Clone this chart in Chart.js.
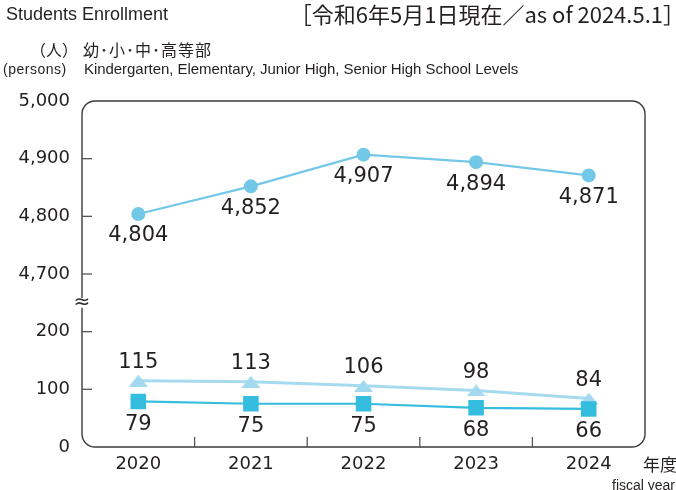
<!DOCTYPE html>
<html>
<head>
<meta charset="utf-8">
<script src="https://cdn.jsdelivr.net/npm/chart.js@4/dist/chart.umd.min.js"></script>
<style>
  html, body { margin:0; padding:0; background:#fff; }
  #wrap { position:relative; width:676px; height:490px; overflow:hidden; }
  canvas { position:absolute; left:0; top:0; }
  .t { position:absolute; white-space:nowrap; line-height:1; color:#231f20; }
</style>
</head>
<body>
<div id="wrap">
  <canvas id="c" width="676" height="490"></canvas>
  <div class="t" style="left:6px;top:5px;font:18px 'Liberation Sans',Arial,sans-serif;line-height:1;">Students Enrollment</div>
  <div class="t" style="right:-9px;top:2px;font:22px 'Noto Sans CJK JP',sans-serif;line-height:1;">［令和6年5月1日現在／as of 2024.5.1］</div>
  <div class="t" style="left:30px;top:41px;font:16px 'Noto Sans CJK JP',sans-serif;line-height:1;">（人）</div>
  <div class="t" style="left:83px;top:41px;font:16px 'Noto Sans CJK JP',sans-serif;line-height:1;letter-spacing:1px;">幼･小･中･高等部</div>
  <div class="t" style="left:3px;top:62px;font:14px 'Liberation Sans',Arial,sans-serif;line-height:1;letter-spacing:0.5px;">(persons)</div>
  <div class="t" style="left:84px;top:61px;font:15px 'Liberation Sans',Arial,sans-serif;line-height:1;letter-spacing:-0.05px;">Kindergarten, Elementary, Junior High, Senior High School Levels</div>
  <div class="t" style="left:643px;top:455px;font:17px 'Noto Sans CJK JP',sans-serif;line-height:1;">年度</div>
  <div class="t" style="left:612px;top:478px;font:14px 'Liberation Sans',Arial,sans-serif;line-height:1;">fiscal year</div>
</div>
<script>
// ---- data ----
const years = ['2020', '2021', '2022', '2023', '2024'];
const totalStudents = [4804, 4852, 4907, 4894, 4871];
const triangleSeries = [115, 113, 106, 98, 84];
const squareSeries = [79, 75, 75, 68, 66];
const upperTicks = [4700, 4800, 4900, 5000];
const lowerTicks = [0, 100, 200];

const fmt = v => Number(v).toLocaleString('en-US');
const TXT = '#231f20';
const NUMFONT = "'DejaVu Sans', sans-serif";

// flattened triangle marker
function triMarker(w, h, color) {
  const c = document.createElement('canvas');
  c.width = w; c.height = h;
  const g = c.getContext('2d');
  g.fillStyle = color;
  g.beginPath();
  g.moveTo(w / 2, 0);
  g.lineTo(w, h);
  g.lineTo(0, h);
  g.closePath();
  g.fill();
  return c;
}

const labelOffsets = [22, 23, -18];

const framePlugin = {
  id: 'frame',
  afterDatasetsDraw(chart) {
    const ctx = chart.ctx;
    const a = chart.chartArea;
    const x = chart.scales.x, yT = chart.scales.yTop, yB = chart.scales.yBot;
    ctx.save();
    // rounded frame
    const r = 13;
    ctx.strokeStyle = '#3a3a3a';
    ctx.lineWidth = 1.4;
    ctx.beginPath();
    ctx.roundRect(a.left, a.top, a.right - a.left, a.bottom - a.top, r);
    ctx.stroke();
    // inward y ticks
    ctx.strokeStyle = '#555';
    ctx.lineWidth = 1.3;
    const yt = [];
    upperTicks.forEach(v => yt.push(yT.getPixelForValue(v)));
    lowerTicks.forEach(v => yt.push(yB.getPixelForValue(v)));
    yt.forEach(py => {
      if (py < a.top + r || py > a.bottom - r) return;
      ctx.beginPath(); ctx.moveTo(a.left, py); ctx.lineTo(a.left + 10, py); ctx.stroke();
    });
    // x ticks between categories
    for (let i = 0; i < years.length - 1; i++) {
      const px = (x.getPixelForValue(i) + x.getPixelForValue(i + 1)) / 2;
      ctx.beginPath(); ctx.moveTo(px, a.bottom); ctx.lineTo(px, a.bottom - 10); ctx.stroke();
    }
    // break mark
    const by = yB.top;
    ctx.fillStyle = '#fff';
    ctx.fillRect(a.left - 3, by - 5, 6, 10);
    ctx.fillStyle = '#333';
    ctx.font = "20px 'DejaVu Sans', sans-serif";
    ctx.textAlign = 'center';
    ctx.textBaseline = 'middle';
    ctx.fillText('≈', a.left, by);
    // value labels
    ctx.fillStyle = TXT;
    ctx.font = "21px " + NUMFONT;
    chart.data.datasets.forEach((ds, di) => {
      const meta = chart.getDatasetMeta(di);
      meta.data.forEach((pt, i) => {
        ctx.fillText(fmt(ds.data[i]), pt.x, pt.y + labelOffsets[di]);
      });
    });
    ctx.restore();
  }
};

const yCommon = {
  type: 'linear',
  position: 'left',
  stack: 'y',
  grid: { display: false, drawTicks: false },
  border: { display: false },
  ticks: {
    stepSize: 100,
    includeBounds: false,
    padding: 12,
    color: TXT,
    font: { family: NUMFONT, size: 18 },
    callback: v => fmt(v)
  },
  afterFit(s) { s.width = 82; }
};

new Chart(document.getElementById('c'), {
  type: 'line',
  data: {
    labels: years,
    datasets: [
      {
        label: 'total',
        data: totalStudents,
        yAxisID: 'yTop',
        borderColor: '#74c8e7',
        backgroundColor: '#74c8e7',
        borderWidth: 2.2,
        pointStyle: 'circle',
        pointRadius: 7,
        pointBorderWidth: 0,
        tension: 0
      },
      {
        label: 'square',
        data: squareSeries,
        yAxisID: 'yBot',
        borderColor: '#35bde0',
        backgroundColor: '#35bde0',
        borderWidth: 2.2,
        pointStyle: 'rect',
        pointRadius: 11,
        pointBorderWidth: 0,
        tension: 0
      },
      {
        label: 'triangle',
        data: triangleSeries,
        yAxisID: 'yBot',
        borderColor: '#a6dbef',
        backgroundColor: '#a6dbef',
        borderWidth: 3,
        pointStyle: triMarker(19, 12, '#a2d9ef'),
        pointRadius: 9,
        tension: 0
      }
    ]
  },
  options: {
    responsive: false,
    animation: false,
    devicePixelRatio: 1,
    layout: { padding: { top: 101, right: 31, left: 0, bottom: 0 } },
    plugins: { legend: { display: false }, tooltip: { enabled: false } },
    scales: {
      x: {
        type: 'category',
        offset: true,
        grid: { display: false, drawTicks: false },
        border: { display: false },
        ticks: { padding: 7, color: TXT, font: { family: NUMFONT, size: 18 } },
        afterFit(s) { s.height = 43; }
      },
      yBot: Object.assign({}, yCommon, { min: 0, max: 250, stackWeight: 2.5 }),
      yTop: Object.assign({}, yCommon, { min: 4650, max: 5000, stackWeight: 3.5 })
    }
  },
  plugins: [framePlugin]
});
</script>
</body>
</html>
